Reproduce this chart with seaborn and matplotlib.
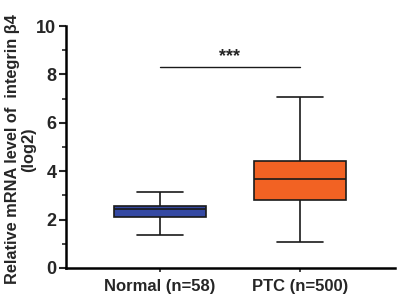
import matplotlib
matplotlib.use("Agg")
import matplotlib.pyplot as plt
import seaborn as sns
import pandas as pd

groups = ["Normal (n=58)", "PTC (n=500)"]
# five-number summaries: min, Q1, median, Q3, max
normal_stats = [1.34, 2.09, 2.45, 2.56, 3.13]
ptc_stats = [1.07, 2.81, 3.67, 4.43, 7.07]
colors = ["#3549a3", "#f26223"]
sig_y = 8.3
sig_text = "***"

sns.set_style("white")
plt.rcParams['font.family'] = ['Liberation Sans', 'DejaVu Sans']

df = pd.DataFrame({
    "group": [groups[0]] * len(normal_stats) + [groups[1]] * len(ptc_stats),
    "value": normal_stats + ptc_stats,
})

fig = plt.figure(figsize=(3.98, 2.99), dpi=100)
ax = fig.add_axes([0.166, 0.104, 0.826, 0.809])

sns.boxplot(data=df, x="group", y="value", hue="group", palette=colors,
            saturation=1, whis=(0, 100), width=0.66, linewidth=1.2,
            linecolor="#1a1a1a", legend=False, ax=ax)

ax.set_xlim(-0.671, 1.679)
ax.set_ylim(0, 10)
ax.set_yticks([0, 2, 4, 6, 8, 10])
ax.set_yticks([1, 3, 5, 7, 9], minor=True)
ax.tick_params(axis='y', which='major', length=5, width=1.5, direction='out', left=True,
               labelsize=13, pad=2)
ax.tick_params(axis='y', which='minor', length=3, width=1.2, direction='out', left=True)
ax.tick_params(axis='x', length=3, width=1.2, direction='out', bottom=True, labelsize=12,
               pad=5)
for lab in ax.get_xticklabels() + ax.get_yticklabels():
    lab.set_fontweight('bold')

sns.despine(ax=ax)
for s in ['left', 'bottom']:
    ax.spines[s].set_linewidth(1.8)
    ax.spines[s].set_color('black')

ax.set_xlabel("")
ax.set_ylabel("Relative mRNA level of  integrin β4\n(log2)", fontsize=11.8,
              fontweight='bold', linespacing=1.1)
ax.yaxis.set_label_coords(-0.092, 0.49)

ax.plot([0, 1], [sig_y, sig_y], color="#1a1a1a", lw=1)
ax.text(0.5, sig_y + 0.1, sig_text, ha='center', va='bottom', fontsize=13,
        fontweight='bold')

fig.savefig("out.png", dpi=100)
